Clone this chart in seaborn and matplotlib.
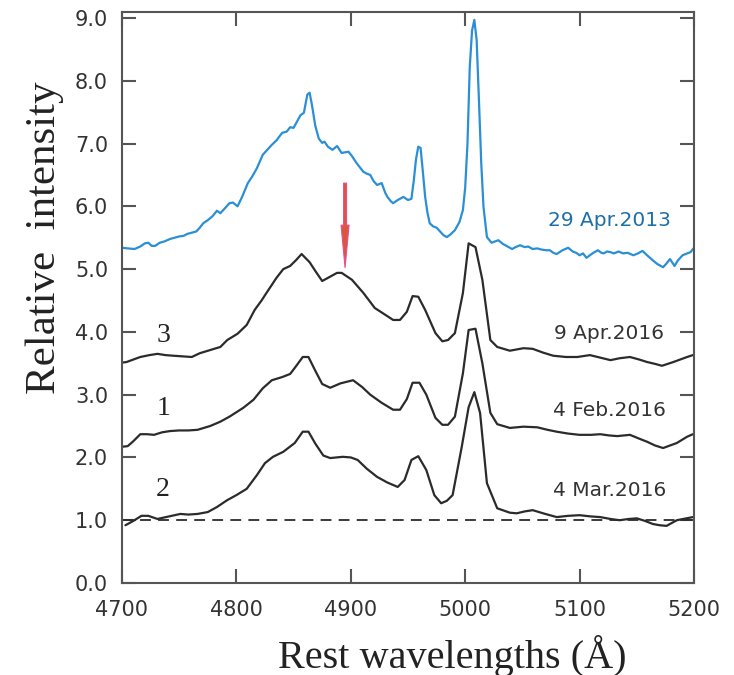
import numpy as np
import pandas as pd
import matplotlib
matplotlib.use("Agg")
import matplotlib.pyplot as plt
import seaborn as sns

# ---------------- data ----------------
wl_2013 = [4700, 4705, 4711, 4716, 4720, 4723, 4726, 4729, 4733, 4737, 4742, 4746, 4750, 4754,
           4757, 4761, 4765, 4768, 4771, 4775, 4779, 4783, 4786, 4790, 4794, 4797, 4801, 4805,
           4810, 4814, 4818, 4823, 4827, 4831, 4835, 4840, 4844, 4847, 4850, 4853, 4856, 4859,
           4862, 4864, 4866, 4869, 4872, 4875, 4877, 4880, 4884, 4888, 4892, 4895, 4898, 4901,
           4905, 4908, 4911, 4914, 4917, 4920, 4923, 4927, 4930, 4932, 4935, 4937, 4941, 4946,
           4950, 4953, 4955, 4957, 4959, 4961, 4963, 4965, 4967, 4969, 4972, 4975, 4978, 4981,
           4984, 4987, 4991, 4995, 4998, 5000, 5002, 5004, 5006, 5008, 5010, 5012, 5014, 5016,
           5019, 5023, 5026, 5029, 5033, 5037, 5041, 5044, 5048, 5052, 5055, 5059, 5063, 5067,
           5071, 5074, 5077, 5080, 5085, 5090, 5094, 5097, 5100, 5103, 5106, 5109, 5112, 5116,
           5119, 5121, 5124, 5127, 5130, 5134, 5138, 5142, 5147, 5151, 5155, 5159, 5164, 5168,
           5173, 5176, 5179, 5183, 5186, 5190, 5194, 5197, 5200]
int_2013 = [5.34, 5.33, 5.32, 5.36, 5.41, 5.42, 5.37, 5.37, 5.42, 5.44, 5.48, 5.50, 5.52, 5.53,
            5.56, 5.58, 5.60, 5.66, 5.73, 5.78, 5.84, 5.93, 5.89, 5.97, 6.05, 6.06, 6.00, 6.15,
            6.37, 6.48, 6.61, 6.82, 6.90, 6.98, 7.05, 7.17, 7.19, 7.26, 7.25, 7.35, 7.45, 7.49,
            7.78, 7.81, 7.62, 7.28, 7.08, 7.01, 7.03, 6.95, 6.90, 6.96, 6.85, 6.86, 6.87, 6.80,
            6.69, 6.62, 6.55, 6.52, 6.50, 6.40, 6.34, 6.37, 6.22, 6.15, 6.08, 6.05, 6.10, 6.15,
            6.10, 6.12, 6.40, 6.75, 6.95, 6.93, 6.55, 6.15, 5.90, 5.73, 5.68, 5.66, 5.60, 5.54,
            5.51, 5.55, 5.62, 5.75, 5.94, 6.30, 7.00, 8.22, 8.80, 8.97, 8.65, 7.70, 6.70, 5.99,
            5.51, 5.42, 5.44, 5.46, 5.40, 5.36, 5.32, 5.35, 5.38, 5.35, 5.36, 5.32, 5.33, 5.31,
            5.30, 5.30, 5.26, 5.24, 5.30, 5.34, 5.28, 5.26, 5.22, 5.25, 5.18, 5.22, 5.26, 5.30,
            5.26, 5.25, 5.28, 5.27, 5.25, 5.28, 5.25, 5.26, 5.22, 5.25, 5.29, 5.22, 5.14, 5.08,
            5.03, 5.09, 5.16, 5.05, 5.14, 5.22, 5.25, 5.27, 5.34]

wl_apr16 = [4700, 4704, 4710, 4716, 4724, 4731, 4738, 4745, 4753, 4761, 4768, 4777, 4786, 4792,
            4801, 4809, 4816, 4822, 4827, 4835, 4841, 4847, 4852, 4857, 4864, 4869, 4875, 4880,
            4888, 4892, 4901, 4911, 4921, 4932, 4937, 4943, 4949, 4954, 4959, 4965, 4974, 4980,
            4985, 4991, 4998, 5003, 5009, 5015, 5022, 5028, 5039, 5051, 5059, 5068, 5077, 5088,
            5098, 5109, 5118, 5127, 5135, 5144, 5152, 5159, 5166, 5172, 5182, 5194, 5199]
int_apr16 = [3.51, 3.52, 3.56, 3.60, 3.63, 3.65, 3.63, 3.62, 3.61, 3.60, 3.66, 3.71, 3.76, 3.87,
             3.97, 4.11, 4.35, 4.50, 4.64, 4.86, 5.00, 5.05, 5.14, 5.24, 5.11, 4.97, 4.81, 4.86,
             4.94, 4.94, 4.83, 4.62, 4.38, 4.25, 4.19, 4.19, 4.32, 4.57, 4.56, 4.35, 3.98, 3.85,
             3.87, 3.98, 4.62, 5.41, 5.35, 4.83, 3.87, 3.76, 3.70, 3.74, 3.73, 3.67, 3.62, 3.60,
             3.60, 3.63, 3.59, 3.55, 3.58, 3.60, 3.56, 3.52, 3.49, 3.46, 3.52, 3.60, 3.63]

wl_feb16 = [4700, 4705, 4710, 4716, 4722, 4728, 4735, 4742, 4750, 4758, 4766, 4777, 4786, 4794,
            4806, 4815, 4823, 4831, 4840, 4847, 4852, 4858, 4863, 4869, 4875, 4882, 4891, 4902,
            4910, 4917, 4927, 4937, 4943, 4949, 4954, 4960, 4966, 4974, 4980, 4985, 4991, 4998,
            5003, 5009, 5015, 5022, 5028, 5039, 5051, 5063, 5072, 5080, 5090, 5100, 5110, 5118,
            5126, 5133, 5144, 5152, 5159, 5166, 5173, 5185, 5194, 5199]
int_feb16 = [2.17, 2.18, 2.26, 2.37, 2.37, 2.36, 2.40, 2.42, 2.43, 2.43, 2.44, 2.50, 2.57, 2.65,
             2.79, 2.92, 3.10, 3.23, 3.28, 3.33, 3.45, 3.60, 3.60, 3.38, 3.17, 3.11, 3.18, 3.23,
             3.12, 3.00, 2.87, 2.76, 2.76, 2.93, 3.19, 3.19, 3.00, 2.63, 2.52, 2.52, 2.65, 3.34,
             4.03, 4.05, 3.50, 2.71, 2.53, 2.47, 2.49, 2.48, 2.44, 2.41, 2.38, 2.36, 2.36, 2.37,
             2.35, 2.34, 2.36, 2.30, 2.25, 2.19, 2.15, 2.23, 2.33, 2.37]

wl_mar16 = [4703, 4706, 4710, 4717, 4723, 4731, 4741, 4751, 4758, 4766, 4775, 4783, 4792, 4800,
            4809, 4818, 4825, 4832, 4841, 4851, 4858, 4863, 4869, 4876, 4882, 4893, 4900, 4906,
            4914, 4923, 4932, 4941, 4947, 4953, 4959, 4966, 4973, 4979, 4984, 4989, 4997, 5003,
            5008, 5013, 5019, 5028, 5039, 5045, 5052, 5059, 5070, 5080, 5090, 5100, 5110, 5118,
            5127, 5135, 5143, 5150, 5157, 5164, 5170, 5176, 5185, 5199]
int_mar16 = [0.92, 0.95, 0.99, 1.07, 1.07, 1.02, 1.06, 1.10, 1.09, 1.10, 1.13, 1.21, 1.32, 1.40,
             1.50, 1.72, 1.91, 2.01, 2.09, 2.23, 2.41, 2.41, 2.22, 2.03, 1.99, 2.01, 2.00, 1.96,
             1.82, 1.69, 1.60, 1.53, 1.64, 1.96, 2.02, 1.80, 1.40, 1.27, 1.31, 1.40, 2.17, 2.80,
             3.04, 2.71, 1.59, 1.19, 1.12, 1.11, 1.14, 1.16, 1.10, 1.05, 1.07, 1.08, 1.06, 1.05,
             1.02, 1.00, 1.02, 1.03, 0.99, 0.94, 0.92, 0.91, 1.00, 1.05]

date_labels = ["29 Apr.2013", "9 Apr.2016", "4 Feb.2016", "4 Mar.2016"]
date_label_y = [5.78, 3.98, 2.74, 1.48]
curve_numbers = ["3", "1", "2"]
curve_number_y = [3.95, 2.78, 1.49]
x_ticks = [4700, 4800, 4900, 5000, 5100, 5200]
y_ticks = [0, 1, 2, 3, 4, 5, 6, 7, 8, 9]
baseline = 1.0
arrow_wl = 4895
arrow_top, arrow_bottom = 6.37, 5.02

# ---------------- figure ----------------
sns.set_theme(style="white")
plt.rcParams["font.family"] = ["DejaVu Sans"]

fig = plt.figure(figsize=(7.34, 6.75), dpi=100)
ax = fig.add_axes([0.1662, 0.1363, 0.7793, 0.8459])

blue = "#2b8fd6"
dark = "#2b2b2b"
df_b = pd.DataFrame({"wl": wl_2013, "I": int_2013})
sns.lineplot(data=df_b, x="wl", y="I", ax=ax, color=blue, lw=1.6,
             estimator=None, sort=False)
for wl, it in [(wl_apr16, int_apr16), (wl_feb16, int_feb16), (wl_mar16, int_mar16)]:
    d = pd.DataFrame({"wl": wl, "I": it})
    sns.lineplot(data=d, x="wl", y="I", ax=ax, color=dark, lw=1.6,
                 estimator=None, sort=False)

ax.axhline(baseline, color=dark, lw=1.3, ls=(0, (6, 4)))

ax.arrow(arrow_wl, arrow_top, 0, arrow_bottom - arrow_top, width=2.6,
         head_width=7.0, head_length=0.68, length_includes_head=True,
         fc="#d9573f", ec="#e8508a", lw=0.8, zorder=5)

ax.set_xlim(4700, 5200)
ax.set_ylim(0, 9.095)
ax.set_xticks(x_ticks)
ax.set_yticks(y_ticks)
ax.set_yticklabels([f"{v:.1f}" for v in y_ticks])

spine_c = "#555555"
for s in ax.spines.values():
    s.set_color(spine_c)
    s.set_linewidth(1.5)
    s.set_visible(True)
ax.tick_params(axis="both", which="major", direction="in", length=10, width=1.5,
               color=spine_c, labelsize=15, labelcolor="#333333",
               top=True, right=True, bottom=True, left=True)
ax.tick_params(axis="x", pad=12)
ax.tick_params(axis="y", pad=10)
ax.grid(False)

# text labels
for lab, yv, col in zip(date_labels, date_label_y, ["#1d6fa8", "#333333", "#333333", "#333333"]):
    ax.text(5126, yv, lab, ha="center", va="center", fontsize=14.5, color=col)
for lab, yv in zip(curve_numbers, curve_number_y):
    ax.text(4736, yv, lab, ha="center", va="center", fontsize=20, color="#222222",
            family="Liberation Serif")

ax.set_xlabel("Rest wavelengths (Å)", fontsize=29, family="Liberation Serif",
              color="#222222", va="center")
ax.xaxis.set_label_coords(0.577, -0.127)
ax.set_ylabel("Relative  intensity", fontsize=31, family="Liberation Serif",
              color="#222222", va="center")
ax.yaxis.set_label_coords(-0.135, 0.604)

fig.savefig("out.png", dpi=100)
